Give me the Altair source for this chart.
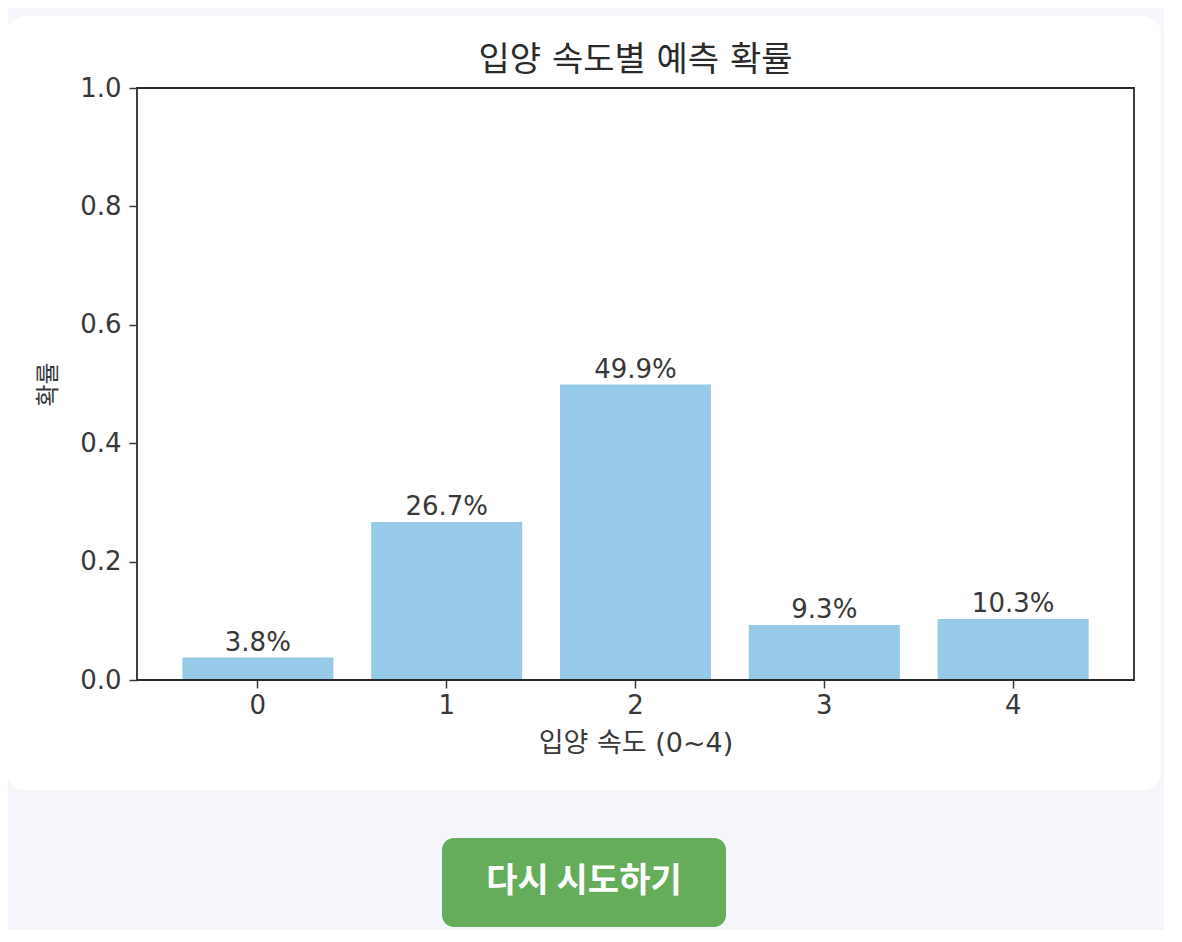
import altair as alt
import pandas as pd

categories = ["0", "1", "2", "3", "4"]
probabilities = [0.038, 0.267, 0.499, 0.093, 0.103]
y_ticks = [0.0, 0.2, 0.4, 0.6, 0.8, 1.0]

title_text = "입양 속도별 예측 확률"
x_title = "입양 속도 (0~4)"
y_title = "확률"
button_text = "다시 시도하기"

FONT = "DejaVu Sans, Noto Sans CJK KR"
KFONT = "Noto Sans CJK KR"
TXT = "#383838"
W, H = 997, 592

df = pd.DataFrame({"cat": categories, "prob": probabilities})
df["label"] = [f"{v * 100:.1f}%" for v in probabilities]

one = pd.DataFrame({"k": [0]})

card = alt.Chart(one).mark_rect(
    fill="white", cornerRadius=18, clip=False
).encode(
    x=alt.value(-130), x2=alt.value(1024), y=alt.value(-72), y2=alt.value(702)
)

x_enc = alt.X(
    "cat:O", sort=categories,
    scale=alt.Scale(paddingInner=0.2, paddingOuter=0.24),
    axis=alt.Axis(title=x_title, labelAngle=0, domain=False, tickSize=8,
                  tickColor=TXT, tickWidth=1.5, labelPadding=4,
                  labelFontSize=26, labelColor=TXT, labelFont=FONT,
                  titleFontSize=27, titleFont=FONT, titleColor=TXT,
                  titleFontWeight="normal", titlePadding=12, zindex=2),
)
y_enc = alt.Y(
    "prob:Q", scale=alt.Scale(domain=[0, 1], nice=False),
    axis=alt.Axis(title=y_title, values=y_ticks, format=".1f", grid=False,
                  domain=False, tickSize=8, tickColor=TXT, tickWidth=1.5,
                  labelPadding=8, labelFontSize=26, labelColor=TXT,
                  labelFont=FONT, titleFontSize=24, titleFont=KFONT,
                  titleColor=TXT, titleFontWeight="normal",
                  titlePadding=19, zindex=2),
)

bars = alt.Chart(df).mark_bar(color="#96cae8").encode(x=x_enc, y=y_enc)

labels = alt.Chart(df).mark_text(
    baseline="alphabetic", dy=-7, fontSize=26, font=FONT, color=TXT
).encode(x=alt.X("cat:O", sort=categories), y="prob:Q", text="label:N")

frame = alt.Chart(one).mark_rect(
    filled=False, stroke="#2a2a2a", strokeWidth=1.8
).encode(
    x=alt.value(0), x2=alt.value("width"), y=alt.value(0), y2=alt.value("height")
)

title = alt.Chart(pd.DataFrame({"t": [title_text]})).mark_text(
    fontSize=34, font=FONT, color="#2a2a2a", align="center", baseline="middle"
).encode(x=alt.value(W / 2), y=alt.value(-27), text="t:N")

button = alt.Chart(one).mark_rect(
    fill="#66ad5b", cornerRadius=12, clip=False
).encode(
    x=alt.value(305), x2=alt.value(589), y=alt.value(750), y2=alt.value(839)
)

button_label = alt.Chart(pd.DataFrame({"t": [button_text]})).mark_text(
    fontSize=34, fontWeight="bold", font=KFONT, color="white",
    align="center", baseline="middle"
).encode(x=alt.value(447), y=alt.value(794), text="t:N")

chart = alt.layer(card, bars, labels, frame, title, button, button_label).properties(
    width=W, height=H,
    autosize=alt.AutoSizeParams(type="none"),
    padding={"left": 129, "top": 80, "right": 30, "bottom": 250},
).configure(background="#f4f6fb").configure_view(stroke=None)

chart.save("out.html", embed_options={"renderer": "svg", "actions": False})
